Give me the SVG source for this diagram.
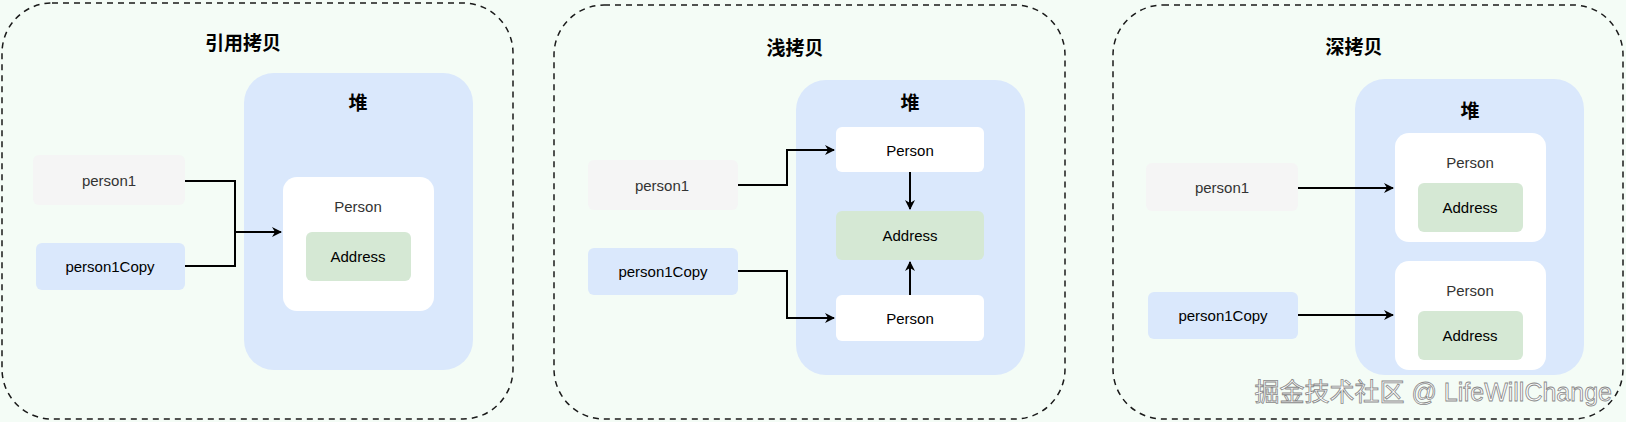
<svg xmlns="http://www.w3.org/2000/svg" width="1626" height="422" viewBox="0 0 1626 422">
<style>
.frame{fill:none;stroke:#1a1a1a;stroke-width:1.5;stroke-dasharray:6 5}
.heap{fill:#dae8fc}
.white{fill:#ffffff}
.addr{fill:#d5e8d4}
.p1{fill:#f5f5f5}
.pc{fill:#dae8fc}
text{font-family:"Liberation Sans","Noto Sans CJK SC",sans-serif;text-anchor:middle;dominant-baseline:central}
.t{font-size:19px;font-weight:bold;fill:#000}
.l{font-size:15px;fill:#333}
.w{font-size:15px;fill:#000}
.c{fill:none;stroke:#000;stroke-width:2}
</style>
<defs><marker id="a" markerWidth="10" markerHeight="10" refX="9" refY="5" orient="auto" markerUnits="userSpaceOnUse"><path d="M0,0 L10,5 L0,10 L3,5 z" fill="#000"/></marker></defs>
<rect width="1626" height="422" fill="#f4fcf6"/>
<g id="panel1">
<rect class="frame" x="2" y="3" width="511" height="416" rx="50"/>
<text class="t" x="243" y="43">引用拷贝</text>
<rect class="heap" x="244" y="73" width="229" height="297" rx="30"/>
<text class="t" x="358" y="103">堆</text>
</g>
<g id="p1-person1"><rect class="p1" x="33" y="155" width="152" height="50" rx="6"/><text class="l" x="109" y="180">person1</text></g>
<g id="p1-person1Copy"><rect class="pc" x="36" y="243" width="149" height="47" rx="6"/><text class="w" x="110" y="266">person1Copy</text></g>
<g id="p1-Person"><rect class="white" x="283" y="177" width="151" height="134" rx="14"/><text class="l" x="358" y="206">Person</text></g>
<g id="p1-Address"><rect class="addr" x="306" y="232" width="105" height="49" rx="6"/><text class="w" x="358" y="256">Address</text></g>

<g id="panel2">
<rect class="frame" x="554" y="5" width="511" height="414" rx="50"/>
<text class="t" x="795" y="48">浅拷贝</text>
<rect class="heap" x="796" y="80" width="229" height="295" rx="30"/>
<text class="t" x="910" y="103">堆</text>
</g>
<g id="p2-person1"><rect class="p1" x="588" y="160" width="150" height="50" rx="6"/><text class="l" x="662" y="185">person1</text></g>
<g id="p2-person1Copy"><rect class="pc" x="588" y="248" width="150" height="47" rx="6"/><text class="w" x="663" y="271">person1Copy</text></g>
<g id="p2-PersonTop"><rect class="white" x="836" y="127" width="148" height="45" rx="6"/><text class="w" x="910" y="150">Person</text></g>
<g id="p2-Address"><rect class="addr" x="836" y="211" width="148" height="49" rx="6"/><text class="w" x="910" y="235">Address</text></g>
<g id="p2-PersonBottom"><rect class="white" x="836" y="295" width="148" height="46" rx="6"/><text class="w" x="910" y="318">Person</text></g>

<g id="panel3">
<rect class="frame" x="1113" y="5" width="510" height="414" rx="50"/>
<text class="t" x="1354" y="47">深拷贝</text>
<rect class="heap" x="1355" y="79" width="229" height="296" rx="30"/>
<text class="t" x="1470" y="111">堆</text>
</g>
<g id="p3-person1"><rect class="p1" x="1146" y="163" width="152" height="48" rx="6"/><text class="l" x="1222" y="187">person1</text></g>
<g id="p3-person1Copy"><rect class="pc" x="1148" y="292" width="150" height="47" rx="6"/><text class="w" x="1223" y="315">person1Copy</text></g>
<g id="p3-Person1"><rect class="white" x="1395" y="133" width="151" height="109" rx="14"/><text class="l" x="1470" y="162">Person</text></g>
<g id="p3-Address1"><rect class="addr" x="1418" y="183" width="105" height="49" rx="6"/><text class="w" x="1470" y="207">Address</text></g>
<g id="p3-Person2"><rect class="white" x="1395" y="261" width="151" height="109" rx="14"/><text class="l" x="1470" y="290">Person</text></g>
<g id="p3-Address2"><rect class="addr" x="1418" y="311" width="105" height="49" rx="6"/><text class="w" x="1470" y="335">Address</text></g>

<g id="connectors">
<path class="c" d="M185,181 H235 V232 H281" marker-end="url(#a)"/>
<path class="c" d="M185,266 H235 V232"/>
<path class="c" d="M738,185 H787 V150 H834" marker-end="url(#a)"/>
<path class="c" d="M738,271 H787 V318 H834" marker-end="url(#a)"/>
<path class="c" d="M910,172 V209" marker-end="url(#a)"/>
<path class="c" d="M910,295 V262" marker-end="url(#a)"/>
<path class="c" d="M1298,188 H1393" marker-end="url(#a)"/>
<path class="c" d="M1298,315 H1393" marker-end="url(#a)"/>
</g>
<text x="1612" y="392" style="font-size:25px;text-anchor:end;fill:#ffffff;stroke:#888;stroke-width:0.8">掘金技术社区 @ LifeWillChange</text>
</svg>
